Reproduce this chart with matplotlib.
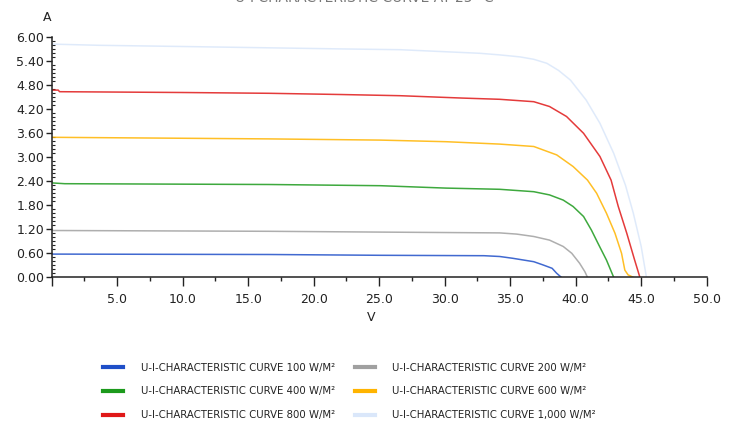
import matplotlib.pyplot as plt
from matplotlib.lines import Line2D
from matplotlib.ticker import MultipleLocator, FormatStrFormatter

# U-I curves (voltage in V, current in A)
v_100 = [0, 16.6, 25.1, 33.0, 34.2, 35.2, 36.8, 37.5, 38.2, 38.55, 38.9]
i_100 = [0.58, 0.57, 0.55, 0.54, 0.52, 0.475, 0.39, 0.31, 0.225, 0.10, 0.0]

v_200 = [0, 16.6, 25.1, 34.2, 35.5, 36.8, 38.0, 39.05, 39.7, 40.3, 40.7, 40.9]
i_200 = [1.17, 1.15, 1.13, 1.11, 1.08, 1.02, 0.93, 0.77, 0.60, 0.35, 0.14, 0.0]

v_400 = [0, 1.0, 16.6, 25.1, 30.1, 34.2, 36.8, 38.0, 39.05, 39.8, 40.6, 41.2, 41.7, 42.35, 42.9]
i_400 = [2.36, 2.34, 2.32, 2.29, 2.23, 2.20, 2.14, 2.06, 1.93, 1.77, 1.52, 1.18, 0.85, 0.43, 0.0]

v_600 = [0, 16.6, 25.1, 30.1, 34.2, 36.8, 38.55, 39.8, 40.9, 41.6, 42.35, 43.0, 43.5, 43.75, 44.0, 44.4]
i_600 = [3.50, 3.46, 3.43, 3.39, 3.33, 3.27, 3.06, 2.77, 2.43, 2.10, 1.60, 1.10, 0.60, 0.18, 0.06, 0.0]

v_800 = [0, 0.5, 0.6, 10.0, 16.6, 22.0, 26.6, 31.4, 34.2, 36.8, 38.0, 39.3, 40.6, 41.85, 42.7, 43.25, 43.9, 44.5, 44.9]
i_800 = [4.68, 4.68, 4.64, 4.62, 4.60, 4.57, 4.54, 4.48, 4.45, 4.39, 4.27, 4.02, 3.60, 3.02, 2.43, 1.77, 1.10, 0.43, 0.0]

v_1000 = [0, 3.6, 10.0, 16.0, 22.0, 26.6, 32.7, 34.2, 35.75, 36.8, 37.8, 38.7, 39.6, 40.8, 41.85, 42.9, 43.8, 44.4, 45.0, 45.4]
i_1000 = [5.83, 5.80, 5.77, 5.74, 5.71, 5.69, 5.60, 5.56, 5.51, 5.45, 5.35, 5.17, 4.93, 4.43, 3.85, 3.10, 2.30, 1.60, 0.77, 0.0]

labels = ["U-I-Characteristic Curve 100 W/m²", "U-I-Characteristic Curve 200 W/m²",
          "U-I-Characteristic Curve 400 W/m²", "U-I-Characteristic Curve 600 W/m²",
          "U-I-Characteristic Curve 800 W/m²", "U-I-Characteristic Curve 1,000 W/m²"]
colors = ["#1f4fc8", "#a0a0a0", "#1c9a1c", "#ffb400", "#e01818", "#dae7fa"]

plt.rcParams['font.family'] = ['DejaVu Sans']

fig = plt.figure(figsize=(7.34, 4.24), dpi=100)
ax = fig.add_axes([51.7/734, 1 - 277.3/424, 655/734, 240/424])

curves = [(v_100, i_100), (v_200, i_200), (v_400, i_400),
          (v_600, i_600), (v_800, i_800), (v_1000, i_1000)]
for (v, i), c in zip(curves, colors):
    ax.plot(v, i, color=c, lw=1.1, alpha=0.85, solid_joinstyle='round')

ax.set_xlim(0, 50)
ax.set_ylim(0, 6)
ax.xaxis.set_major_locator(MultipleLocator(5))
ax.xaxis.set_minor_locator(MultipleLocator(2.5))
ax.yaxis.set_major_locator(MultipleLocator(0.6))
ax.yaxis.set_minor_locator(MultipleLocator(0.1))
ax.xaxis.set_major_formatter(lambda x, pos: '' if x == 0 else '%.1f' % x)
ax.yaxis.set_major_formatter(FormatStrFormatter('%.2f'))

for s in ['top', 'right']:
    ax.spines[s].set_visible(False)
for s in ['left', 'bottom']:
    ax.spines[s].set_linewidth(1.1)
    ax.spines[s].set_color('#222222')

ax.tick_params(axis='x', which='major', direction='out', length=6.5, width=1, pad=5, labelsize=9, colors='#222222')
ax.tick_params(axis='x', which='minor', direction='out', length=3, width=1, colors='#222222')
ax.tick_params(axis='y', which='major', direction='out', length=4.5, width=1, pad=1, labelsize=9, colors='#222222')
ax.tick_params(axis='y', which='minor', direction='in', length=2, width=0.8, colors='#222222')

fig.text(47/734, 1 - 17.5/424, 'A', ha='center', va='center', fontsize=9, color='#222222')
fig.text(371/734, 1 - 317.5/424, 'V', ha='center', va='center', fontsize=9, color='#222222')

# title sits mostly above the visible area in the reference
fig.text(0.497, 1 - 1.5/424, 'U-I CHARACTERISTIC CURVE AT 25° C', ha='center', va='baseline',
         fontsize=10, color='#777777')

# legend is filled row by row in the reference: reorder for column-wise filling
order = [0, 2, 4, 1, 3, 5]
handles = [Line2D([], [], color=colors[k], lw=3) for k in order]
fig.legend(handles, [labels[k].upper() for k in order], ncol=2, loc='upper left',
           bbox_to_anchor=(103/734, 1 - 362.5/424), frameon=False, borderpad=0, borderaxespad=0,
           prop={'family': ['Liberation Sans Narrow', 'DejaVu Sans'], 'size': 7.3},
           handlelength=2.0, handletextpad=1.7, columnspacing=2.0, labelspacing=1.37,
           labelcolor='#222222')

fig.savefig('out.png', dpi=100)
